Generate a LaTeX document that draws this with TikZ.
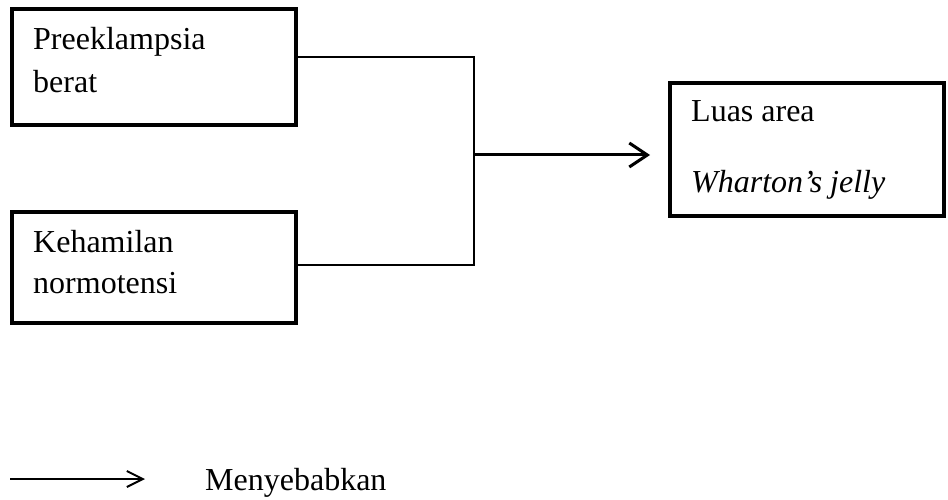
\documentclass[tikz,border=0pt]{standalone}
\usepackage{fontspec}
\setmainfont{Liberation Serif}
\usetikzlibrary{arrows.meta}
\begin{document}
\begin{tikzpicture}[x=1pt,y=1pt,
  boxnode/.style={draw,line width=4pt,rectangle,inner sep=0pt},
  txt/.style={anchor=base west,inner sep=0pt,font=\fontsize{32}{38}\selectfont},
  link/.style={line width=1.5pt},
  cause/.style={line width=3pt,-{Straight Barb[length=18pt,width=24pt,line width=3pt]}},
  legarrow/.style={line width=2pt,-{Straight Barb[length=16pt,width=16pt,line width=2pt]}}]
\useasboundingbox (0,0) rectangle (948,499);
% boxes (y measured from top: y' = 499 - y)
\node[boxnode,minimum width=284pt,minimum height=116pt] (b1) at (154,432) {};
\node[boxnode,minimum width=284pt,minimum height=111pt] (b2) at (154,231.5) {};
\node[boxnode,minimum width=274pt,minimum height=133pt] (b3) at (807,349.5) {};
% texts
\node[txt] (t1a) at (33,449) {Preeklampsia};
\node[txt] (t1b) at (33,406) {berat};
\node[txt] (t2a) at (33,247) {Kehamilan};
\node[txt] (t2b) at (33,206) {normotensi};
\node[txt] (t3a) at (691,377) {Luas area};
\node[txt] (t3b) at (691,306) {\itshape Wharton’s jelly};
% connectors
\coordinate (j1) at (474,442);
\coordinate (j2) at (474,234);
\coordinate (jm) at (474,344);
\coordinate (tip) at (650,344);
\draw[link] (b1.east |- j1) -- (j1) -- (j2) -- (b2.east |- j2);
\draw[cause] (jm) -- (tip);
% legend
\coordinate (l1) at (10,20);
\coordinate (l2) at (145,20);
\draw[legarrow] (l1) -- (l2);
\node[txt] (leg) at (205,9) {Menyebabkan};
\end{tikzpicture}
\end{document}
